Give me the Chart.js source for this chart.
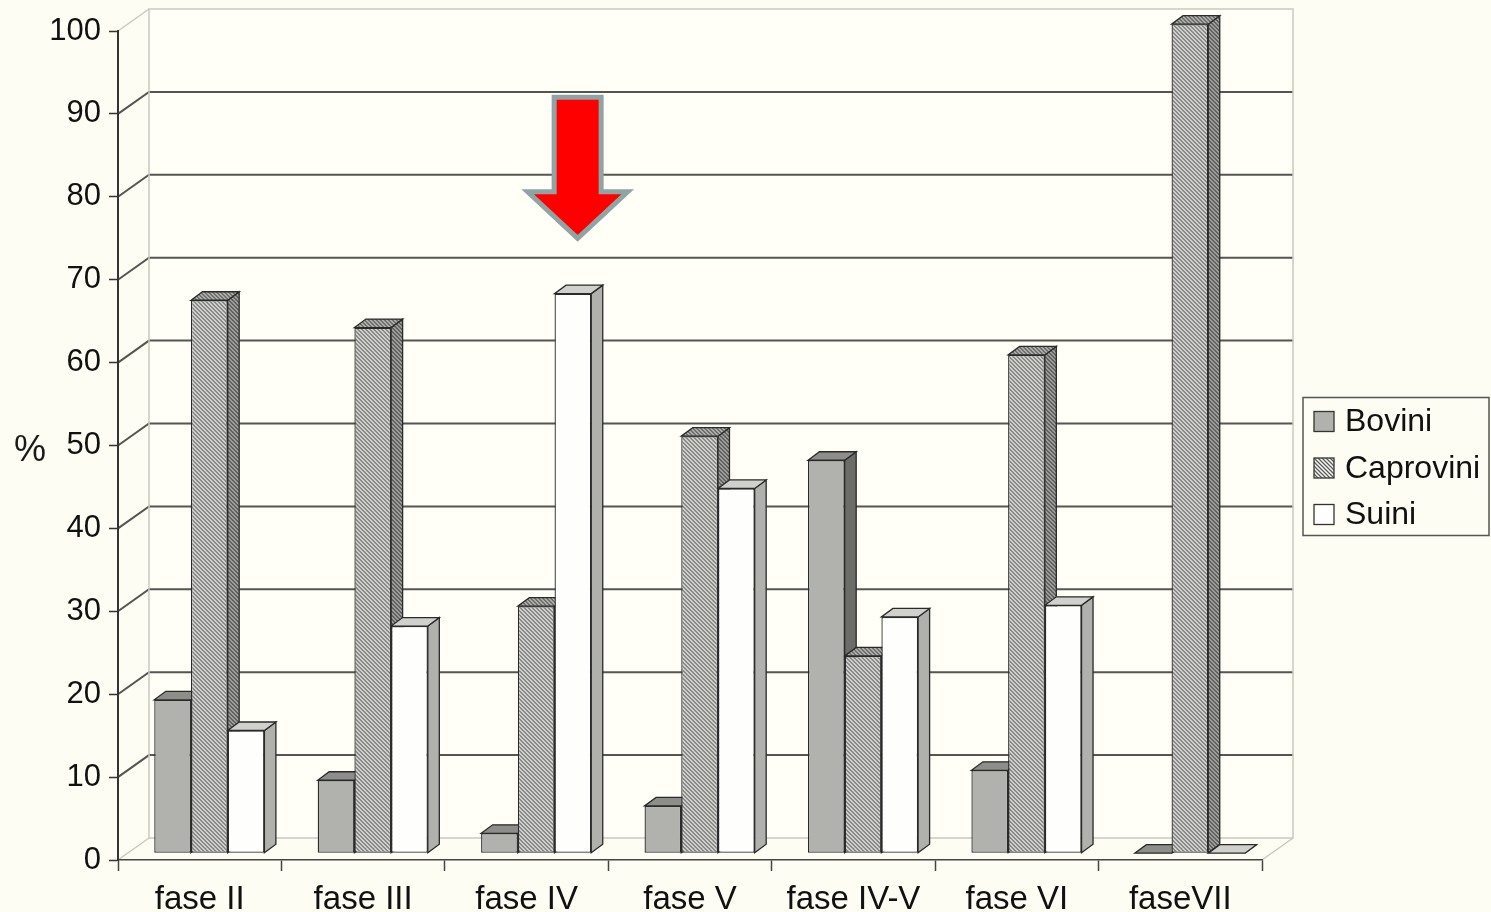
<!DOCTYPE html>
<html>
<head>
<meta charset="utf-8">
<title>Bovini, Caprovini, Suini per fase</title>
<script src="https://cdn.jsdelivr.net/npm/chart.js@4/dist/chart.umd.min.js"></script>
<style>
  html, body { margin: 0; padding: 0; background: #fdfdf3; overflow: hidden; }
  canvas { display: block; }
</style>
</head>
<body>
<canvas id="chart" width="1491" height="912"></canvas>
<script>
// ---- data ----
const categories = ['fase II', 'fase III', 'fase IV', 'fase V', 'fase IV-V', 'fase VI', 'faseVII'];
const bovini     = [18.5, 8.8, 2.4, 5.7, 47.4, 10.0, 0];
const caprovini  = [66.7, 63.4, 29.8, 50.3, 23.8, 60.1, 100];
const suini      = [14.8, 27.4, 67.5, 44.0, 28.5, 29.9, 0];
const seriesNames = ['Bovini', 'Caprovini', 'Suini'];
const axisTitle = '%';

// arrow pointing at the Suini column of fase IV (values on the % axis)
const arrowCategory = 'fase IV';
const arrowTop = 92.0, arrowNeck = 80.6, arrowTip = 75.0;

// ---- 3D geometry ----
const WALL = { dx: 31, dy: -22 };       // floor depth (front axis -> back wall)
const BAR_Z = 0.31;                     // columns stand at this fraction of the depth
const BAR = { dx: 11.5, dy: -8.5 };     // column depth
const FONT = '"Liberation Sans", Arial, Helvetica, sans-serif';

function hatch(bg, fg, size, lw) {
  const c = document.createElement('canvas');
  c.width = c.height = size;
  const g = c.getContext('2d');
  g.fillStyle = bg; g.fillRect(0, 0, size, size);
  g.strokeStyle = fg; g.lineWidth = lw;
  g.beginPath();
  g.moveTo(-1, -1); g.lineTo(size + 1, size + 1);
  g.moveTo(-1, size - 1); g.lineTo(1, size + 1);
  g.moveTo(size - 1, -1); g.lineTo(size + 1, 1);
  g.stroke();
  return g.createPattern(c, 'repeat');
}

const faces = [
  { front: '#b1b1ad', top: '#8d8d89', side: '#6c6c69' },
  { front: hatch('#f8f8f4', '#5a5a5a', 4, 1.3), top: hatch('#d4d4d0', '#4a4a4a', 4, 1.4), side: hatch('#c4c4c0', '#3c3c3c', 4, 1.4) },
  { front: '#fefefc', top: '#d0d0cc', side: '#b0b0ac' }
];

const barOffset = () => ({ x: WALL.dx * BAR_Z, y: WALL.dy * BAR_Z });

const box3d = {
  id: 'box3d',
  beforeDraw(chart) {
    const { ctx, chartArea: a, scales: { y } } = chart;
    ctx.save();
    ctx.fillStyle = '#fdfdf3';
    ctx.fillRect(0, 0, chart.width, chart.height);
    // back wall surface
    const bl = a.left + WALL.dx, br = a.right + WALL.dx;
    const bt = y.getPixelForValue(100) + WALL.dy, bb = y.getPixelForValue(0) + WALL.dy;
    ctx.fillStyle = '#fffff8';
    ctx.fillRect(bl, bt, br - bl, bb - bt);
    // gridlines on back wall and side wall
    ctx.lineCap = 'butt';
    y.ticks.forEach(t => {
      const py = y.getPixelForValue(t.value);
      const edge = (t.value === 0 || t.value === 100);
      ctx.strokeStyle = edge ? '#c9c9c2' : '#555551';
      ctx.lineWidth = edge ? 1.5 : 2;
      ctx.beginPath();
      ctx.moveTo(a.left, py);
      ctx.lineTo(bl, py + WALL.dy);
      if (!edge) ctx.lineTo(br, py + WALL.dy);
      ctx.stroke();
    });
    // wall outline
    ctx.strokeStyle = '#c9c9c2';
    ctx.lineWidth = 1.5;
    ctx.beginPath();
    ctx.moveTo(bl, bb); ctx.lineTo(bl, bt); ctx.lineTo(br, bt); ctx.lineTo(br, bb); ctx.lineTo(bl, bb);
    ctx.moveTo(a.right, a.bottom); ctx.lineTo(br, bb);
    ctx.stroke();
    ctx.restore();
  },
  beforeDatasetsDraw(chart) {
    const { ctx } = chart;
    const off = barOffset();
    ctx.save();
    ctx.translate(off.x, off.y);
    // tops and right sides of the columns, drawn left to right
    const parts = [];
    chart.data.datasets.forEach((ds, i) => {
      chart.getDatasetMeta(i).data.forEach(el => {
        parts.push({ L: el.x - el.width / 2, R: el.x + el.width / 2, T: el.y, B: el.base, f: faces[i] });
      });
    });
    parts.sort((p, q) => p.L - q.L);
    ctx.lineWidth = 1.3;
    ctx.strokeStyle = '#2a2a2a';
    ctx.lineJoin = 'miter';
    parts.forEach(p => {
      ctx.beginPath();
      ctx.moveTo(p.R, p.T); ctx.lineTo(p.R + BAR.dx, p.T + BAR.dy);
      ctx.lineTo(p.R + BAR.dx, p.B + BAR.dy); ctx.lineTo(p.R, p.B); ctx.closePath();
      ctx.fillStyle = p.f.side; ctx.fill(); ctx.stroke();
      ctx.beginPath();
      ctx.moveTo(p.L, p.T); ctx.lineTo(p.R, p.T);
      ctx.lineTo(p.R + BAR.dx, p.T + BAR.dy); ctx.lineTo(p.L + BAR.dx, p.T + BAR.dy); ctx.closePath();
      ctx.fillStyle = p.f.top; ctx.fill(); ctx.stroke();
    });
    // the front faces are drawn by Chart.js inside this translation
  },
  afterDatasetsDraw(chart) {
    chart.ctx.restore();
  },
  afterDraw(chart) {
    const { ctx, chartArea: a, scales: { x, y } } = chart;
    ctx.save();
    // axis title
    ctx.fillStyle = '#1a1a1a';
    ctx.font = '36px ' + FONT;
    ctx.textAlign = 'center';
    ctx.textBaseline = 'middle';
    ctx.fillText(axisTitle, 30, (a.top + a.bottom) / 2 + 6);

    // arrow
    const idx = categories.indexOf(arrowCategory);
    const el = chart.getDatasetMeta(2).data[idx];
    const cx = el.x + barOffset().x + BAR.dx / 2 - 1;
    const yTop = y.getPixelForValue(arrowTop), yNeck = y.getPixelForValue(arrowNeck), yTip = y.getPixelForValue(arrowTip);
    const sw = 23.5, hw = 50;
    ctx.beginPath();
    ctx.moveTo(cx - sw, yTop); ctx.lineTo(cx + sw, yTop); ctx.lineTo(cx + sw, yNeck);
    ctx.lineTo(cx + hw, yNeck); ctx.lineTo(cx, yTip); ctx.lineTo(cx - hw, yNeck);
    ctx.lineTo(cx - sw, yNeck); ctx.closePath();
    ctx.fillStyle = '#ff0000';
    ctx.fill();
    ctx.lineWidth = 5;
    ctx.lineJoin = 'miter';
    ctx.strokeStyle = '#8fa4a5';
    ctx.stroke();

    // legend
    const lw = 186, lh = 138;
    const lx = a.right + 41, ly = (a.top + a.bottom) / 2 + 21 - lh / 2;
    ctx.fillStyle = '#fdfdf3';
    ctx.fillRect(lx, ly, lw, lh);
    ctx.strokeStyle = '#555';
    ctx.lineWidth = 1.5;
    ctx.strokeRect(lx, ly, lw, lh);
    ctx.font = '32px ' + FONT;
    ctx.textAlign = 'left';
    ctx.textBaseline = 'middle';
    chart.data.datasets.forEach((ds, i) => {
      const ry = ly + 24 + i * 46.5;
      ctx.fillStyle = faces[i].front;
      ctx.fillRect(lx + 11, ry - 10, 20, 20);
      ctx.strokeStyle = '#333';
      ctx.lineWidth = 1.3;
      ctx.strokeRect(lx + 11, ry - 10, 20, 20);
      ctx.fillStyle = '#111';
      ctx.fillText(ds.label, lx + 42, ry + 1);
    });
    ctx.restore();
  }
};

const seriesData = [bovini, caprovini, suini];

new Chart(document.getElementById('chart'), {
  type: 'bar',
  data: {
    labels: categories,
    datasets: seriesNames.map((name, i) => ({
      label: name,
      data: seriesData[i],
      backgroundColor: faces[i].front,
      borderColor: '#2a2a2a',
      borderWidth: 1.3,
      borderSkipped: false,
      categoryPercentage: 0.674,
      barPercentage: 1.0
    }))
  },
  options: {
    responsive: false,
    animation: false,
    devicePixelRatio: 1,
    layout: { padding: { top: 31, right: 229, bottom: 0, left: 0 } },
    plugins: { legend: { display: false }, tooltip: { enabled: false } },
    scales: {
      x: {
        grid: { display: true, drawOnChartArea: false, drawTicks: true, tickLength: 11, tickColor: '#444', tickWidth: 1.5, offset: true },
        border: { display: true, color: '#444', width: 1.5 },
        ticks: { color: '#111', font: { size: 33, family: FONT }, padding: 9, maxRotation: 0, autoSkip: false },
        afterFit(s) { s.height = 52; }
      },
      y: {
        min: 0, max: 100,
        grid: { display: true, drawOnChartArea: false, drawTicks: true, tickLength: 9, tickColor: '#333', tickWidth: 1.5 },
        border: { display: true, color: '#333', width: 2 },
        ticks: { stepSize: 10, color: '#111', font: { size: 31, family: FONT }, padding: 8 },
        afterFit(s) { s.width = 118; }
      }
    }
  },
  plugins: [box3d]
});
</script>
</body>
</html>
